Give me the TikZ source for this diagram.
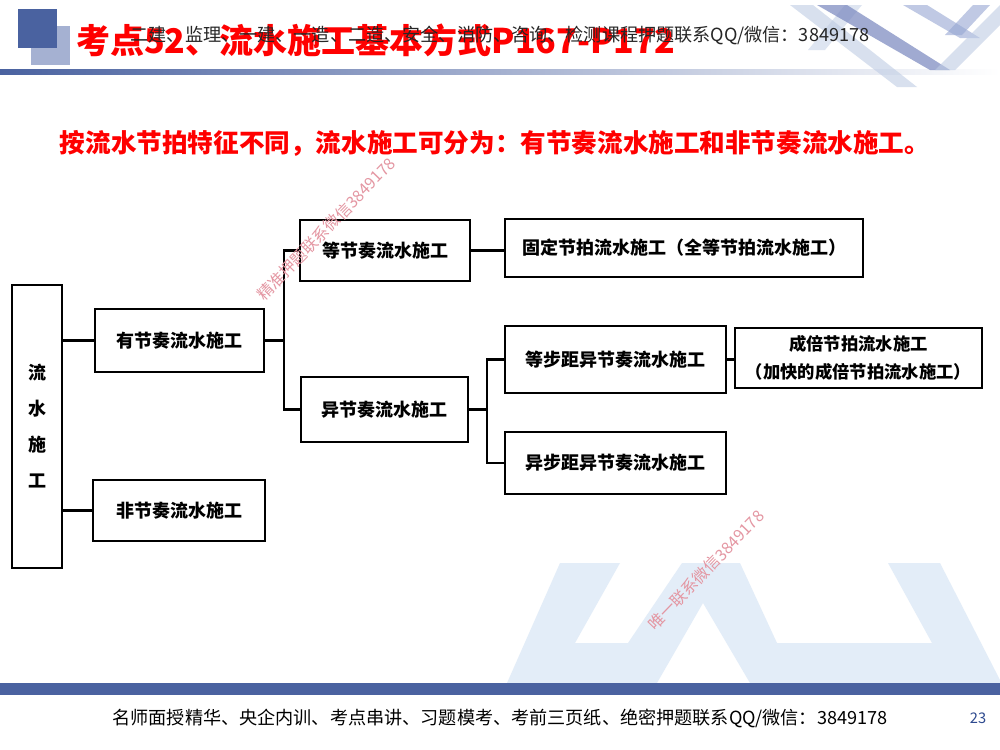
\documentclass[tikz,border=0pt]{standalone}
\usepackage{fontspec}
\setmainfont{Noto Sans CJK SC}
\definecolor{hdblue}{RGB}{74,98,160}
\definecolor{hdlight}{RGB}{165,177,210}
\definecolor{bgshape}{RGB}{227,237,248}
\definecolor{wmark}{RGB}{228,150,162}
\definecolor{pgblue}{RGB}{46,74,143}
\definecolor{decoA}{RGB}{120,134,190}
\definecolor{decoB}{RGB}{190,204,228}
\definecolor{decoC}{RGB}{150,166,210}
\begin{document}
\begin{tikzpicture}[x=0.75pt,y=-0.75pt,
  box/.style={draw=black,line width=1.6pt,fill=white,inner sep=0pt,align=center,
    font=\bfseries\fontsize{13.5}{17}\selectfont},
  link/.style={line width=1.6pt},
  wm/.style={text=wmark,font=\fontsize{12}{14}\selectfont,rotate=46}]
% page
\fill[white] (0,0) rectangle (1000,750);
\useasboundingbox (0,0) rectangle (1000,750);
% bottom light background shape
\fill[bgshape,even odd rule] (507,683) -- (560,563) -- (620,563) -- (575,643) -- (628,643) -- (682,563) -- (740,563) -- (777,643) -- (932,643) -- (888,563) -- (940,563) -- (1000,680) -- (1000,683) -- cycle
  (657,683) -- (703,603) -- (750,683) -- cycle;
% header decoration
\fill[hdlight] (31,26) rectangle (70,65);
\fill[hdblue] (18,9) rectangle (57,48);
\shade[left color=hdblue,right color=white] (0,69) rectangle (1000,74);
\fill[decoB,opacity=.6] (790,5) -- (813,5) -- (917,87) -- (897,87) -- cycle;
\fill[decoB,opacity=.5] (808,50) -- (825,50) -- (862,5) -- (845,5) -- cycle;
\fill[decoA,opacity=.7] (817,5) -- (847,5) -- (950,70) -- (930,70) -- cycle;
\fill[decoC,opacity=.6] (903,5) -- (927,5) -- (980,38) -- (960,38) -- cycle;
\fill[decoC,opacity=.6] (945,35) -- (962,35) -- (990,5) -- (973,5) -- cycle;
\fill[decoB,opacity=.6] (935,70) -- (955,70) -- (1000,25) -- (1000,5) -- cycle;
% bottom band
\fill[hdblue] (0,683) rectangle (1000,695);
% titles
\node[anchor=west,text=red,font=\bfseries\fontsize{25.5}{28}\selectfont,inner sep=0pt] (title) at (76,40) {考点52、流水施工基本方式P167-P172};
\node[text=black!85,font=\fontsize{13.6}{16}\selectfont,inner sep=0pt] (contact) at (500,35) {二建、监理、一建、一造、二造、安全、消防、咨询、检测课程押题联系QQ/微信：3849178};
\node[text=red,font=\bfseries\fontsize{19.2}{22}\selectfont,inner sep=0pt] (sub) at (495,143) {按流水节拍特征不同，流水施工可分为：有节奏流水施工和非节奏流水施工。};
% boxes
\node[box,minimum width=37.5pt,minimum height=212.25pt,font=\bfseries\fontsize{13.5}{27}\selectfont] (root) at (37,426.5) {流\\水\\施\\工};
\node[box,minimum width=126.75pt,minimum height=47.25pt] (yes) at (179.5,340.5) {有节奏流水施工};
\node[box,minimum width=129pt,minimum height=45.75pt] (non) at (179,510.5) {非节奏流水施工};
\node[box,minimum width=127.5pt,minimum height=45.75pt] (eq) at (385,250.5) {等节奏流水施工};
\node[box,minimum width=125.25pt,minimum height=48.75pt] (yi) at (384.5,409.5) {异节奏流水施工};
\node[box,minimum width=268.5pt,minimum height=43.5pt] (fixed) at (684,248) {固定节拍流水施工（全等节拍流水施工）};
\node[box,minimum width=165.75pt,minimum height=50.25pt] (ebj) at (615.5,359.5) {等步距异节奏流水施工};
\node[box,minimum width=185.25pt,minimum height=45pt,font=\bfseries\fontsize{13}{21}\selectfont] (cb) at (858.5,358) {成倍节拍流水施工\\（加快的成倍节拍流水施工）};
\node[box,minimum width=165.75pt,minimum height=46.5pt] (ybj) at (615.5,463) {异步距异节奏流水施工};
% connectors
\coordinate (j1) at (284,0);
\coordinate (j2) at (487,0);
\draw[link] (yes.west -| root.east) -- (yes.west);
\draw[link] (non.west -| root.east) -- (non.west);
\draw[link] (yes.east) -- (yes.east -| j1);
\draw[link] (eq.west) -- (eq.west -| j1) -- (yi.west -| j1) -- (yi.west);
\draw[link] (eq.east) -- (eq.east -| fixed.west);
\draw[link] (yi.east) -- (yi.east -| j2);
\draw[link] (ebj.west) -- (ebj.west -| j2) -- (ybj.west -| j2) -- (ybj.west);
\draw[link] (ebj.east) -- (ebj.east -| cb.west);
% watermarks
\node[wm] (wm1) at (326,229) {精准押题联系微信3849178};
\node[wm] (wm2) at (706,570) {唯一联系微信3849178};
% footer
\node[text=black,font=\fontsize{13.6}{16}\selectfont,inner sep=0pt] (footer) at (500,718) {名师面授精华、央企内训、考点串讲、习题模考、考前三页纸、绝密押题联系QQ/微信：3849178};
\node[text=pgblue,font=\fontsize{11}{13}\selectfont,inner sep=0pt] (page) at (978,718) {23};
\end{tikzpicture}
\end{document}
